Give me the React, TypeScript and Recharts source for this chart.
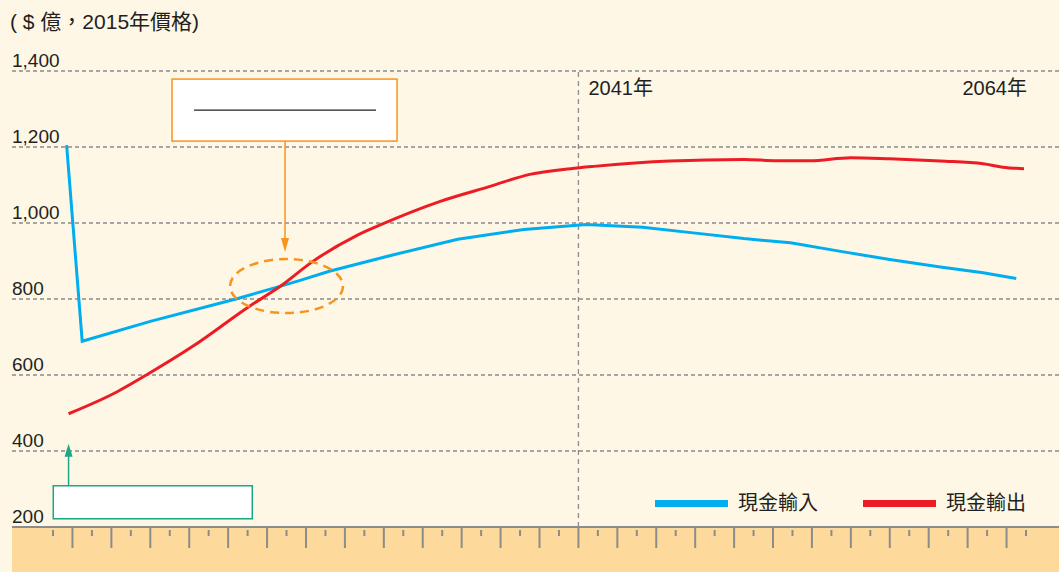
import React from 'react';
import {
  LineChart,
  Line,
  XAxis,
  YAxis,
  CartesianGrid,
  ReferenceLine,
  ReferenceDot,
  Legend,
} from 'recharts';

// readings (year, $億 at 2015 prices)
const inflowYears = [2014.7, 2015.5, 2019.0, 2023.4, 2025.7, 2026.7, 2028.2, 2031.3, 2034.8, 2038.2, 2040.6, 2041.4, 2044.3, 2046.9, 2049.5, 2051.9, 2054.4, 2057.0, 2059.6, 2061.8, 2063.5];
const inflowValues = [1205, 689, 741, 800, 834, 849, 873, 914, 957, 983, 993, 996, 989, 974, 959, 948, 926, 904, 884, 869, 854];

const outflowYears = [2014.8, 2017.3, 2018.8, 2021.2, 2024.1, 2025.7, 2027.3, 2029.6, 2031.0, 2033.9, 2036.5, 2038.5, 2040.6, 2041.8, 2045.7, 2049.5, 2051.2, 2052.9, 2055.0, 2057.0, 2059.6, 2061.8, 2062.8, 2063.9];
const outflowValues = [498, 556, 600, 676, 781, 834, 897, 967, 999, 1057, 1097, 1128, 1143, 1149, 1163, 1167, 1164, 1164, 1172, 1169, 1163, 1156, 1147, 1143];

const yTicks = [200, 400, 600, 800, 1000, 1200, 1400];
const tickYears = Array.from({ length: 51 }, (_, i) => 2014 + i);
const markYear = 2041;
const endYear = 2064;
const seriesNames = ['現金輸入', '現金輸出'];

const inflowData = inflowYears.map((year, i) => ({ year, value: inflowValues[i] }));
const outflowData = outflowYears.map((year, i) => ({ year, value: outflowValues[i] }));

const FONT = "'Liberation Sans', Arial, 'Noto Sans CJK TC', sans-serif";
const TEXT = '#231f20';
const GRID = '#8c8c8c';
const BLUE = '#00aeef';
const RED = '#ed1c24';
const ORANGE = '#f7941d';
const GREEN = '#1aa886';

const renderYTick = (props: any) => {
  const { y, payload } = props;
  return (
    <text x={12} y={y - 4} fontSize={19} fontFamily={FONT} fill={TEXT} textAnchor="start">
      {Number(payload.value).toLocaleString('en-US')}
    </text>
  );
};

const renderXTick = (props: any) => {
  const { x, y, payload } = props;
  const major = (payload.value - 2014) % 2 === 1;
  return (
    <line
      x1={x}
      x2={x}
      y1={major ? y + 1 : y + 3}
      y2={major ? y + 21 : y + 9}
      stroke={GRID}
      strokeWidth={2}
    />
  );
};

const CrossNote = (props: any) => {
  const { cx, cy } = props;
  return (
    <g>
      <rect x={cx - 114.5} y={cy - 207} width={225} height={62} fill="#fff" stroke={ORANGE} strokeWidth={1.5} />
      <line x1={cx - 92.5} x2={cx + 89.5} y1={cy - 176} y2={cy - 176} stroke="#222" strokeWidth={1.3} />
      <line x1={cx - 1.5} x2={cx - 1.5} y1={cy - 145} y2={cy - 46} stroke={ORANGE} strokeWidth={1.5} />
      <path d={`M${cx - 5.5},${cy - 48} L${cx + 2.5},${cy - 48} L${cx - 1.5},${cy - 34} Z`} fill={ORANGE} />
      <ellipse cx={cx} cy={cy} rx={56.5} ry={27} fill="none" stroke={ORANGE} strokeWidth={2.5} strokeDasharray="9 6" />
    </g>
  );
};

const StartNote = (props: any) => {
  const { cx, cy } = props;
  return (
    <g>
      <line x1={cx} x2={cx} y1={cy + 72} y2={cy + 40} stroke={GREEN} strokeWidth={1.5} />
      <path d={`M${cx - 4},${cy + 43} L${cx + 4},${cy + 43} L${cx},${cy + 30} Z`} fill={GREEN} />
      <rect x={cx - 15.3} y={cy + 72} width={199} height={33} fill="#fff" stroke={GREEN} strokeWidth={1.5} />
    </g>
  );
};

const YearLabel = (anchor: 'start' | 'end', dx: number) => (props: any) => {
  const { viewBox, value } = props;
  return (
    <text x={viewBox.x + dx} y={viewBox.y + 24} fontSize={20} fontFamily={FONT} fill={TEXT} textAnchor={anchor}>
      {value}
    </text>
  );
};

const LegendContent = (props: any) => {
  const { payload } = props;
  return (
    <div style={{ display: 'flex', alignItems: 'center', fontFamily: FONT, fontSize: 20, color: TEXT, lineHeight: '24px' }}>
      {(payload || []).map((item: any, i: number) => (
        <div key={item.value} style={{ display: 'flex', alignItems: 'center', marginLeft: i === 0 ? 0 : 45 }}>
          <span style={{ display: 'inline-block', width: 73, height: 7, background: item.color, marginRight: 10 }} />
          <span>{item.value}</span>
        </div>
      ))}
    </div>
  );
};

const App = () => {
  return (
    <div style={{ position: 'absolute', left: 0, top: 0, width: 1059, height: 572, background: '#fef7e5', overflow: 'hidden' }}>
      <div style={{ position: 'absolute', left: 12, top: 527, width: 1047, height: 45, background: '#fdd99b' }} />
      <div
        style={{
          position: 'absolute',
          left: 10,
          top: 5,
          fontFamily: FONT,
          fontSize: 21,
          color: TEXT,
          whiteSpace: 'pre',
        }}
      >
        ( $ 億，2015年價格)
      </div>
      <div style={{ position: 'absolute', left: 0, top: 0 }}>
        <LineChart width={1059} height={572} margin={{ top: 71, right: 0, bottom: 0, left: 11 }}>
          <CartesianGrid
            horizontal
            vertical={false}
            stroke={GRID}
            strokeWidth={1.5}
            strokeDasharray="4 3"
          />
          <XAxis
            type="number"
            dataKey="year"
            domain={[2011.893, 2065.696]}
            ticks={tickYears}
            interval={0}
            height={45}
            tickSize={0}
            tickMargin={0}
            tickLine={false}
            tick={renderXTick}
            axisLine={{ stroke: GRID, strokeWidth: 2 }}
            allowDataOverflow
          />
          <YAxis
            type="number"
            domain={[200, 1400]}
            ticks={yTicks}
            interval={0}
            width={1}
            axisLine={false}
            tickLine={false}
            tick={renderYTick}
            allowDataOverflow
          />
          <ReferenceLine
            x={markYear}
            stroke={GRID}
            strokeWidth={1.3}
            strokeDasharray="5 4"
            label={{ value: `${markYear}年`, content: YearLabel('start', 10) }}
          />
          <ReferenceLine
            x={endYear}
            stroke="none"
            label={{ value: `${endYear}年`, content: YearLabel('end', 1) }}
          />
          <Line
            data={inflowData}
            dataKey="value"
            name={seriesNames[0]}
            type="linear"
            stroke={BLUE}
            strokeWidth={3}
            dot={false}
            activeDot={false}
            isAnimationActive={false}
          />
          <Line
            data={outflowData}
            dataKey="value"
            name={seriesNames[1]}
            type="monotone"
            stroke={RED}
            strokeWidth={3}
            dot={false}
            activeDot={false}
            isAnimationActive={false}
          />
          <ReferenceDot x={2026.0} y={834} r={0} shape={CrossNote} ifOverflow="visible" />
          <ReferenceDot x={outflowYears[0]} y={outflowValues[0]} r={0} shape={StartNote} ifOverflow="visible" />
          <Legend
            layout="horizontal"
            verticalAlign="middle"
            align="center"
            content={<LegendContent />}
            wrapperStyle={{ position: 'absolute', left: 655, top: 491, width: 'auto', bottom: 'auto' }}
          />
        </LineChart>
      </div>
    </div>
  );
};

export default App;
